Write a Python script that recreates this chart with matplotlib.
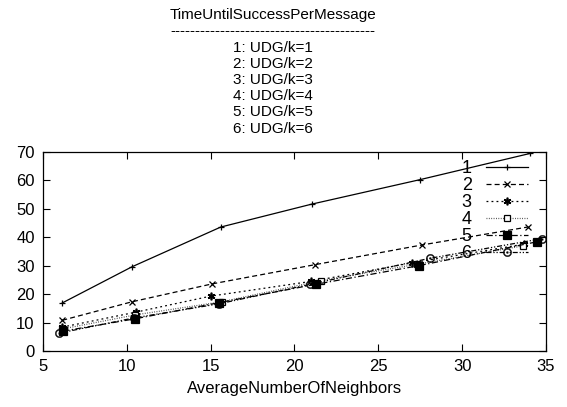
import matplotlib
matplotlib.use('Agg')
import matplotlib.pyplot as plt

plt.rcParams['font.family'] = ['Liberation Sans', 'DejaVu Sans']

# average number of neighbors for each run, per k
x1 = [6.15, 10.3, 15.6, 21.05, 27.5, 34.05]
y1 = [16.9, 29.6, 43.6, 51.7, 60.3, 69.5]
x2 = [6.15, 10.3, 15.08, 21.25, 27.6, 33.9]
y2 = [10.8, 17.3, 23.6, 30.4, 37.3, 43.6]
x3 = [6.15, 10.57, 15.0, 21.0, 27.0, 33.7]
y3 = [8.4, 13.7, 19.3, 24.5, 31.0, 37.6]
x4 = [6.2, 10.5, 15.65, 21.6, 27.3, 33.65]
y4 = [7.8, 12.7, 17.3, 24.8, 30.5, 37.0]
x5 = [6.2, 10.47, 15.5, 21.3, 27.4, 34.45]
y5 = [7.0, 11.3, 17.0, 23.5, 30.0, 38.4]
x6 = [5.98, 10.4, 15.5, 20.9, 28.06, 34.75]
y6 = [6.3, 11.6, 16.6, 23.4, 32.6, 39.5]

labels = ['1', '2', '3', '4', '5', '6']
legend_lines = ['1: UDG/k=1', '2: UDG/k=2', '3: UDG/k=3',
                '4: UDG/k=4', '5: UDG/k=5', '6: UDG/k=6']

fig = plt.figure(figsize=(5.67, 4.07), dpi=100)
ax = fig.add_axes([0.0758, 0.1376, 0.8872, 0.4889])

ms = 5
ax.plot(x1, y1, color='black', lw=0.9, ls='-', marker='+', ms=ms, mew=0.9, label=labels[0])
ax.plot(x2, y2, color='black', lw=0.9, ls=(0, (4, 2.5)), marker='x', ms=4.5, mew=0.9, label=labels[1])
ax.plot(x3, y3, color='black', lw=0.9, ls=(0, (1.5, 2.5)), marker=(6, 2, 0), ms=5.5, mew=1.2, label=labels[2])
ax.plot(x4, y4, color='#444444', lw=0.9, ls=(0, (0.7, 1.2)), marker='s', ms=5, mew=0.9,
        mfc='white', mec='black', label=labels[3])
ax.plot(x5, y5, color='black', lw=0.9, ls=(0, (5, 2, 1, 2)), marker='s', ms=6, mew=0.9,
        mfc='black', mec='black', label=labels[4])
ax.plot(x6, y6, color='black', lw=0.9, ls=(0, (4, 1.5, 1, 1.5, 1, 1.5)), marker='$\\odot$', ms=6,
        mew=0.3, label=labels[5])

ax.set_xlim(5, 35)
ax.set_ylim(0, 70)
ax.set_xticks(range(5, 36, 5))
ax.set_yticks(range(0, 71, 10))
ax.tick_params(direction='in', length=5, width=0.8, top=True, right=True,
               labelsize=12, pad=6, colors='black')
for s in ax.spines.values():
    s.set_linewidth(0.9)

ax.set_xlabel('AverageNumberOfNeighbors', fontsize=12, labelpad=5)

# gnuplot-style key: label first, sample line after it
leg = ax.legend(loc='upper right', markerfirst=False, frameon=False, fontsize=13,
                handlelength=2.33, handletextpad=0.78, labelspacing=0.0,
                borderaxespad=0.3, borderpad=0.15)
leg.set_bbox_to_anchor((0.98, 1.0), transform=ax.transAxes)

title = 'TimeUntilSuccessPerMessage\n' + '-' * 41 + '\n' + '\n'.join(legend_lines)
fig.text(0.482, 0.98, title, ha='center', va='top', fontsize=11, linespacing=1.2)

fig.savefig('out.png', dpi=100)
